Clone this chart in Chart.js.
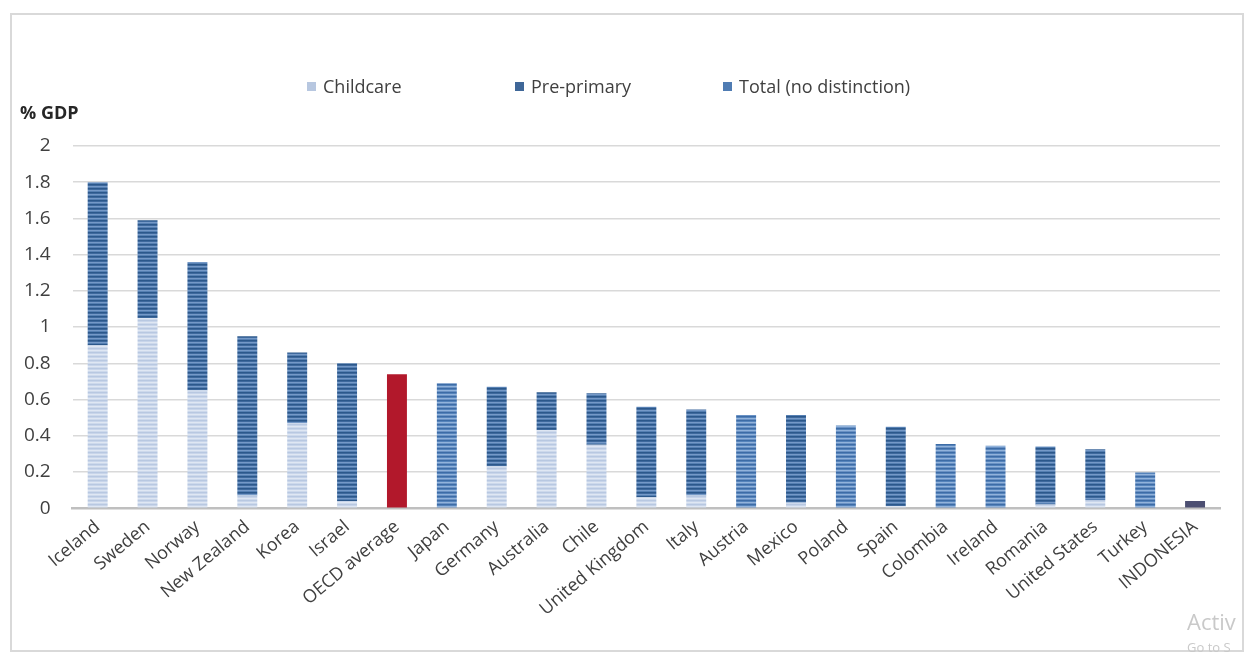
<!DOCTYPE html>
<html lang="en">
<head>
<meta charset="UTF-8">
<title>Public spending on early childhood education and care</title>
<script src="https://cdn.jsdelivr.net/npm/chart.js"></script>
<style>
  body { margin: 0; width: 1250px; height: 656px; overflow: hidden; background: #fff; position: relative; font-family: 'Open Sans', sans-serif; }
  #frame { position: absolute; left: 10px; top: 13px; width: 1234px; height: 639px; border: 2px solid #d9d9d9; box-sizing: border-box; }
  #wrap { position: absolute; left: 0; top: 0; width: 1250px; height: 656px; }
  #legend { position: absolute; top: 74px; left: 307px; display: flex; }
  .item { width: 208px; display: flex; align-items: center; font-size: 18px; color: #404040; white-space: nowrap; }
  .box { width: 9px; height: 9px; margin-right: 7px; }
  #unit { position: absolute; left: 20px; top: 100px; font-weight: bold; font-size: 18px; color: #262626; }
  .wm { position: absolute; color: #c9c9c9; white-space: nowrap; }
</style>
</head>
<body>
<div id="frame"></div>
<div id="wrap"><canvas id="chart"></canvas></div>
<div id="legend"></div>
<div id="unit">% GDP</div>
<div class="wm" style="left:1187px; top:606px; font-size:22px;">Activ</div>
<div class="wm" style="left:1187px; top:638px; font-size:13px;">Go to S</div>

<script>
// categories along the x axis
const countries = ['Iceland', 'Sweden', 'Norway', 'New Zealand', 'Korea', 'Israel', 'OECD average', 'Japan',
  'Germany', 'Australia', 'Chile', 'United Kingdom', 'Italy', 'Austria', 'Mexico', 'Poland', 'Spain',
  'Colombia', 'Ireland', 'Romania', 'United States', 'Turkey', 'INDONESIA'];

// % of GDP
const childcare  = [0.90, 1.05, 0.65, 0.07, 0.47, 0.04, null, null, 0.23, 0.43, 0.35, 0.06, 0.07, null, 0.03, null, 0.01, null, null, 0.02, 0.045, null, null];
const prePrimary = [0.90, 0.54, 0.71, 0.88, 0.39, 0.76, null, null, 0.44, 0.21, 0.285, 0.50, 0.475, null, 0.485, null, 0.44, null, null, 0.32, 0.28, null, null];
const totalNoDistinction = [null, null, null, null, null, null, 0.74, 0.69, null, null, null, null, null, 0.515, null, 0.457, null, 0.355, 0.345, null, null, 0.197, 0.04];

const seriesNames = ['Childcare', 'Pre-primary', 'Total (no distinction)'];
const yTicks = [0, 0.2, 0.4, 0.6, 0.8, 1, 1.2, 1.4, 1.6, 1.8, 2];

// striped fills like the original
function stripes(rows) {
  const c = document.createElement('canvas');
  c.width = 4; c.height = rows.length;
  const g = c.getContext('2d');
  rows.forEach((col, i) => { g.fillStyle = col; g.fillRect(0, i, 4, 1); });
  return g.createPattern(c, 'repeat');
}
const childFill = stripes(['#b8c8e1', '#c8d5ea', '#dfe7f3', '#cdd9ec']);
const preFill = stripes(['#2c588b', '#3e699d', '#7599c7', '#5680b3']);
const totalFill = stripes(['#3d6ca6', '#5583bb', '#92b3db', '#6a92c5']);
const legendColors = ['#b7c7e0', '#3f6798', '#4f7cb3'];

const legend = document.getElementById('legend');
seriesNames.forEach((name, i) => {
  const it = document.createElement('div');
  it.className = 'item';
  it.innerHTML = '<span class="box" style="background:' + legendColors[i] + '"></span>' + name;
  legend.appendChild(it);
});

new Chart(document.getElementById('chart'), {
  type: 'bar',
  data: {
    labels: countries,
    datasets: [
      { label: seriesNames[0], data: childcare, backgroundColor: childFill },
      { label: seriesNames[1], data: prePrimary, backgroundColor: preFill },
      {
        label: seriesNames[2],
        data: totalNoDistinction,
        backgroundColor: ctx => {
          const name = countries[ctx.dataIndex];
          if (name === 'OECD average') return '#b2182b';
          if (name === 'INDONESIA') return '#4c4f72';
          return totalFill;
        }
      }
    ]
  },
  options: {
    responsive: true,
    maintainAspectRatio: false,
    animation: false,
    layout: { autoPadding: false, padding: { top: 146, left: 2, right: 30, bottom: 36 } },
    datasets: { bar: { barPercentage: 0.8, categoryPercentage: 0.5 } },
    plugins: { legend: { display: false }, tooltip: { enabled: false } },
    scales: {
      x: {
        stacked: true,
        grid: { display: false },
        border: { color: '#bfbfbf', width: 2.5 },
        ticks: { color: '#404040', font: { family: "'Open Sans', sans-serif", size: 18 }, minRotation: 40, maxRotation: 40, padding: 0 }
      },
      y: {
        stacked: true,
        min: 0,
        max: 2,
        afterBuildTicks: axis => { axis.ticks = yTicks.map(v => ({ value: v })); },
        grid: { color: '#d9d9d9', lineWidth: 1.5, drawTicks: false },
        border: { display: false },
        ticks: { color: '#404040', font: { family: "'Open Sans', sans-serif", size: 19 }, padding: 22, callback: v => String(v) }
      }
    }
  }
});
</script>
</body>
</html>
